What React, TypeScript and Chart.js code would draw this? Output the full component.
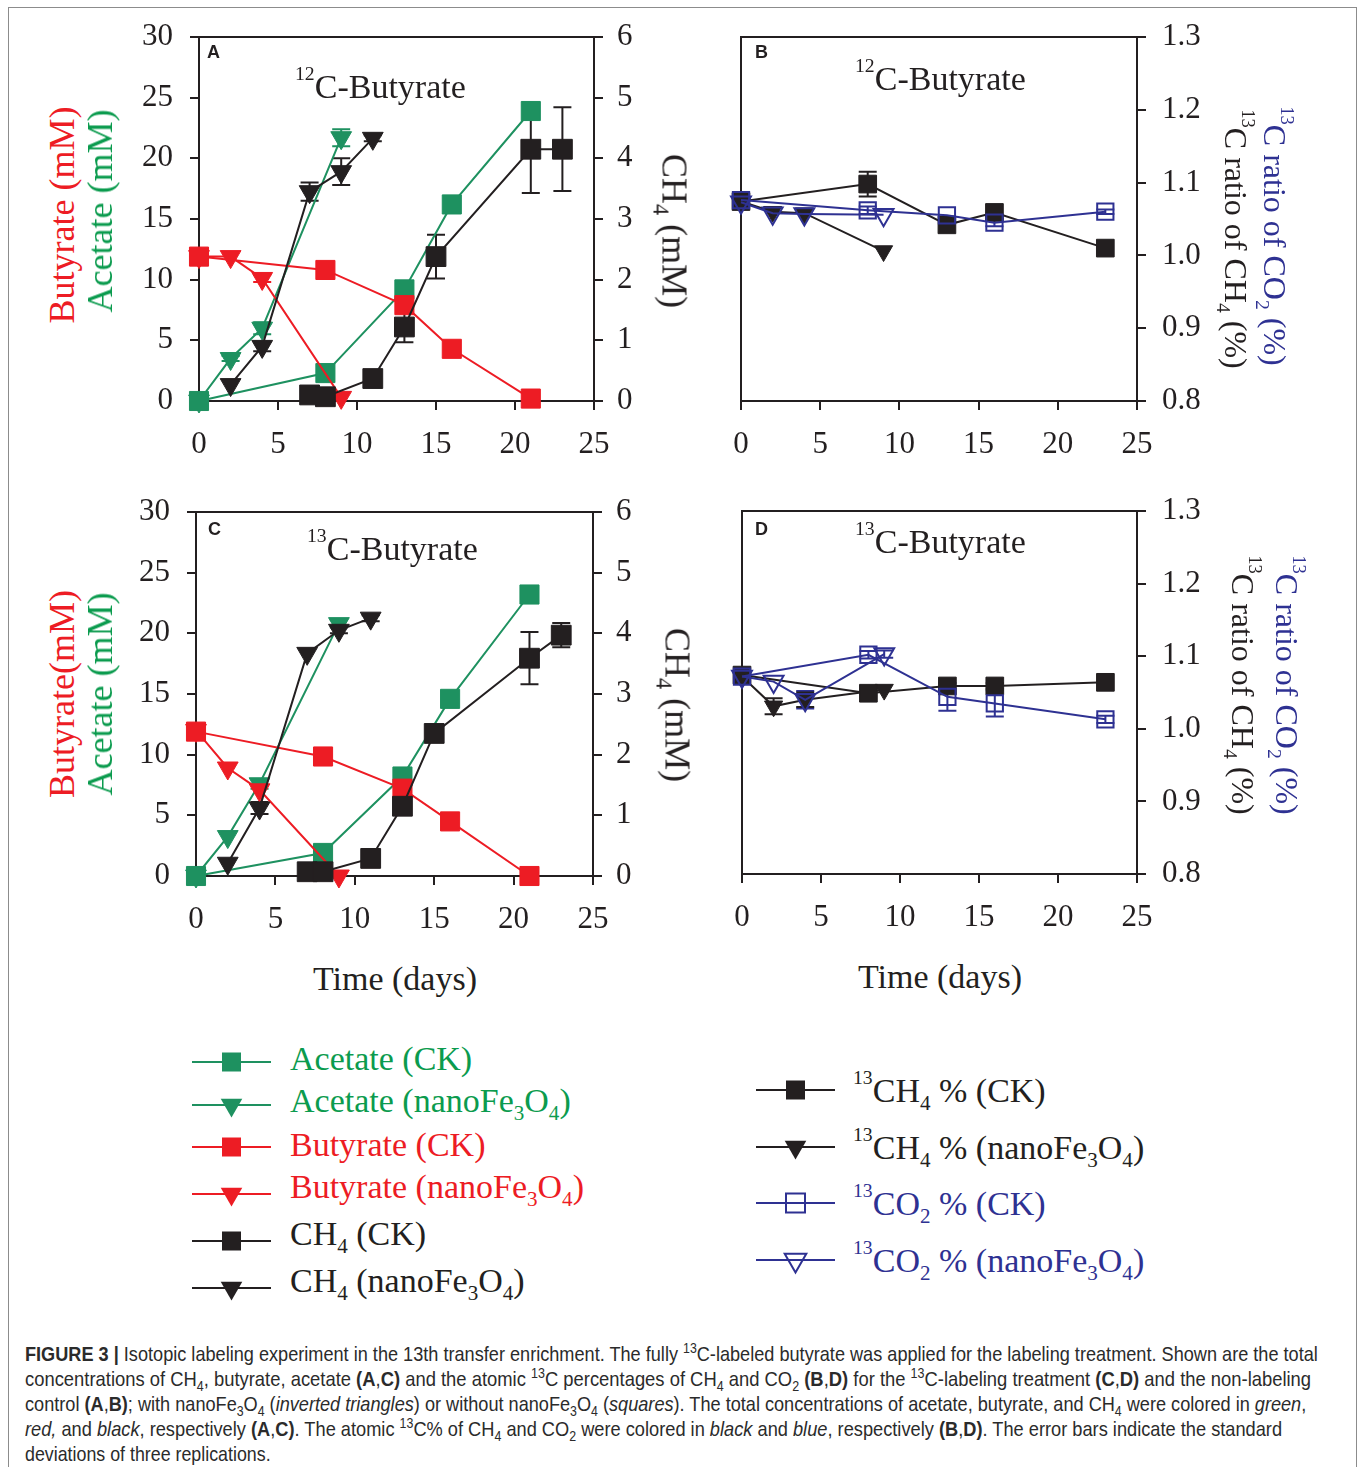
import React, { useEffect, useLayoutEffect, useRef } from 'react';
import { Chart, registerables } from 'chart.js';
Chart.register(...registerables);

const INK = '#231F20';
const GREEN = '#1E9160';
const GREEN_TXT = '#0B9B4E';
const RED = '#ED1C24';
const BLUE = '#2E3192';
const SERIF = "'Liberation Serif','Times New Roman',Times,serif";
const SANS = "'Liberation Sans',Arial,Helvetica,sans-serif";
const CAPTION_FONT = "'Liberation Sans',Arial,Helvetica,sans-serif";

// ---------- x values (days) ----------
const DAYS_ACID_CK = [0, 8, 13, 16, 21];
const DAYS_ACID_NANO = [0, 2, 4, 9];
const DAYS_CH4_CK = [7, 8, 11, 13, 15, 21, 23];
const DAYS_CH4_NANO = [2, 4, 7, 9, 11];
const DAYS_ISO_CK = [0, 8, 13, 16, 23];
const DAYS_ISO_NANO = [0, 2, 4, 9];

// ---------- tick labels ----------
const X_TICKS = [0, 5, 10, 15, 20, 25];
const CONC_TICKS = [0, 5, 10, 15, 20, 25, 30];
const CH4_TICKS = [0, 1, 2, 3, 4, 5, 6];
const RATIO_TICKS = [0.8, 0.9, 1.0, 1.1, 1.2, 1.3];

// ---------- Panel A (12C-butyrate, concentrations) ----------
const A_ACETATE_CK = [0, 2.3, 9.2, 16.2, 23.9];
const A_ACETATE_NANO = [0, 3.5, 6.0, 21.7];
const A_ACETATE_NANO_ERR = [0, 0.2, 0.5, 0.7];
const A_BUTYRATE_CK = [11.9, 10.8, 7.9, 4.3, 0.2];
const A_BUTYRATE_NANO = [11.9, 11.9, 10.1, 0.3];
const A_BUTYRATE_NANO_ERR = [0, 0, 0.3, 0];
const A_CH4_CK = [0.1, 0.07, 0.37, 1.22, 2.38, 4.15, 4.15];
const A_CH4_CK_ERR = [0, 0, 0, 0.25, 0.36, 0.72, 0.69];
const A_CH4_NANO = [0.27, 0.9, 3.45, 3.78, 4.33];
const A_CH4_NANO_ERR = [0, 0.08, 0.15, 0.22, 0.05];

// ---------- Panel B (12C-butyrate, 13C ratio) ----------
const B_CH4_CK = [1.074, 1.098, 1.042, 1.059, 1.010];
const B_CH4_CK_ERR = [0, 0.017, 0, 0, 0];
const B_CH4_NANO = [1.074, 1.060, 1.058, 1.006];
const B_CO2_CK = [1.076, 1.062, 1.055, 1.045, 1.060];
const B_CO2_CK_ERR = [0, 0.005, 0, 0.005, 0.003];
const B_CO2_NANO = [1.073, 1.058, 1.057, 1.056];

// ---------- Panel C (13C-butyrate, concentrations) ----------
const C_ACETATE_CK = [0, 1.9, 8.2, 14.6, 23.2];
const C_ACETATE_NANO = [0, 3.25, 7.6, 20.8];
const C_ACETATE_NANO_ERR = [0, 0, 0.4, 0.3];
const C_BUTYRATE_CK = [11.9, 9.85, 7.2, 4.5, 0];
const C_BUTYRATE_NANO = [12.0, 8.9, 7.1, 0];
const C_CH4_CK = [0.07, 0.07, 0.29, 1.15, 2.35, 3.59, 3.97];
const C_CH4_CK_ERR = [0, 0, 0, 0, 0, 0.43, 0.2];
const C_CH4_NANO = [0.21, 1.12, 3.67, 4.05, 4.25];
const C_CH4_NANO_ERR = [0, 0.1, 0, 0.05, 0.05];

// ---------- Panel D (13C-butyrate, 13C ratio) ----------
const D_CH4_CK = [1.074, 1.049, 1.059, 1.059, 1.064];
const D_CH4_CK_ERR = [0, 0, 0, 0.004, 0];
const D_CH4_NANO = [1.072, 1.031, 1.040, 1.054];
const D_CH4_NANO_ERR = [0, 0.011, 0.01, 0];
const D_CO2_CK = [1.072, 1.102, 1.044, 1.035, 1.013];
const D_CO2_CK_ERR = [0, 0.005, 0.019, 0.018, 0.005];
const D_CO2_NANO = [1.072, 1.065, 1.040, 1.103];
const D_CO2_NANO_ERR = [0, 0, 0.012, 0.005];

// ---------- chart helpers ----------
type Opt = { errs?: number[]; open?: boolean; r?: number };
function series(label: string, xs: number[], ys: number[], color: string, shape: 'rect' | 'tri', axis: string, opt: Opt = {}) {
  const isTri = shape === 'tri';
  return {
    label,
    data: xs.map((x, i) => ({ x, y: ys[i] })),
    borderColor: color,
    backgroundColor: color,
    borderWidth: 2,
    pointStyle: isTri ? 'triangle' : 'rect',
    pointRotation: isTri ? 180 : 0,
    pointRadius: opt.r ?? (isTri ? 12 : 13.5),
    pointBackgroundColor: opt.open ? 'rgba(255,255,255,0)' : color,
    pointBorderColor: color,
    pointBorderWidth: opt.open ? 2 : 1,
    yAxisID: axis,
    clip: false,
    tension: 0,
    fill: false,
    errors: opt.errs,
  } as any;
}

const framePlugin = {
  id: 'frame',
  beforeDatasetsDraw(chart: any) {
    const { ctx, chartArea } = chart;
    ctx.save();
    ctx.strokeStyle = INK;
    ctx.lineWidth = 2;
    ctx.strokeRect(chartArea.left, chartArea.top, chartArea.right - chartArea.left, chartArea.bottom - chartArea.top);
    ctx.restore();
  },
};

const errorBarPlugin = {
  id: 'errbars',
  beforeDatasetsDraw(chart: any) {
    const ctx = chart.ctx;
    chart.data.datasets.forEach((ds: any, i: number) => {
      if (!ds.errors) return;
      const meta = chart.getDatasetMeta(i);
      const ys = chart.scales[meta.yAxisID];
      ctx.save();
      ctx.strokeStyle = ds.borderColor;
      ctx.lineWidth = 2;
      meta.data.forEach((pt: any, j: number) => {
        const e = ds.errors[j];
        if (!e) return;
        const v = ds.data[j].y;
        const y1 = ys.getPixelForValue(v + e);
        const y2 = ys.getPixelForValue(v - e);
        const x = pt.x;
        ctx.beginPath();
        ctx.moveTo(x, y1); ctx.lineTo(x, y2);
        ctx.moveTo(x - 9, y1); ctx.lineTo(x + 9, y1);
        ctx.moveTo(x - 9, y2); ctx.lineTo(x + 9, y2);
        ctx.stroke();
      });
      ctx.restore();
    });
  },
};

function axisCommon(padding: number) {
  return {
    grid: { drawOnChartArea: false, drawTicks: true, tickLength: 9, color: INK, lineWidth: 2 },
    border: { display: true, color: INK, width: 2 },
    ticks: { autoSkip: false, maxRotation: 0, minRotation: 0, color: INK, font: { family: SERIF, size: 31 }, padding },
  };
}

function xScale(height: number) {
  const c = axisCommon(16);
  return {
    type: 'linear', position: 'bottom', min: X_TICKS[0], max: X_TICKS[X_TICKS.length - 1],
    ...c,
    ticks: { ...c.ticks, stepSize: X_TICKS[1] - X_TICKS[0], callback: (v: number) => String(v) },
    afterFit: (s: any) => { s.height = height; },
  };
}

function yScale(position: string, ticksArr: number[], width: number, padding: number, digits: number) {
  const c = axisCommon(padding);
  return {
    type: 'linear', position, min: ticksArr[0], max: ticksArr[ticksArr.length - 1],
    ...c,
    ticks: { ...c.ticks, stepSize: +(ticksArr[1] - ticksArr[0]).toFixed(3), callback: (v: number) => v.toFixed(digits) },
    afterFit: (s: any) => { s.width = width; },
  };
}

function concConfig(p: {
  aceCK: number[]; aceNano: number[]; aceNanoErr: number[];
  butCK: number[]; butNano: number[]; butNanoErr?: number[];
  ch4CK: number[]; ch4CKErr: number[]; ch4Nano: number[]; ch4NanoErr: number[];
  leftW: number; rightW: number; bottomH: number; padTop: number;
}) {
  return {
    type: 'line',
    data: {
      datasets: [
        series('CH4 (CK)', DAYS_CH4_CK, p.ch4CK, INK, 'rect', 'y2', { errs: p.ch4CKErr, r: 14 }),
        series('CH4 (nanoFe3O4)', DAYS_CH4_NANO, p.ch4Nano, INK, 'tri', 'y2', { errs: p.ch4NanoErr }),
        series('Butyrate (CK)', DAYS_ACID_CK, p.butCK, RED, 'rect', 'y'),
        series('Butyrate (nanoFe3O4)', DAYS_ACID_NANO, p.butNano, RED, 'tri', 'y', { errs: p.butNanoErr }),
        series('Acetate (CK)', DAYS_ACID_CK, p.aceCK, GREEN, 'rect', 'y'),
        series('Acetate (nanoFe3O4)', DAYS_ACID_NANO, p.aceNano, GREEN, 'tri', 'y', { errs: p.aceNanoErr }),
      ],
    },
    options: {
      responsive: false, animation: false, devicePixelRatio: 1, events: [],
      layout: { padding: { top: p.padTop, left: 0, right: 0, bottom: 0 } },
      plugins: { legend: { display: false }, tooltip: { enabled: false }, title: { display: false } },
      scales: {
        x: xScale(p.bottomH),
        y: yScale('left', CONC_TICKS, p.leftW, 17, 0),
        y2: yScale('right', CH4_TICKS, p.rightW, 14, 0),
      },
    },
    plugins: [framePlugin, errorBarPlugin],
  } as any;
}

function ratioConfig(p: {
  ch4CK: number[]; ch4CKErr?: number[]; ch4Nano: number[]; ch4NanoErr?: number[];
  co2CK: number[]; co2CKErr?: number[]; co2Nano: number[]; co2NanoErr?: number[];
  padLeft: number; padTop: number; rightW: number; bottomH: number;
}) {
  return {
    type: 'line',
    data: {
      datasets: [
        series('13CO2 % (CK)', DAYS_ISO_CK, p.co2CK, BLUE, 'rect', 'y', { errs: p.co2CKErr, open: true, r: 11.5 }),
        series('13CO2 % (nanoFe3O4)', DAYS_ISO_NANO, p.co2Nano, BLUE, 'tri', 'y', { errs: p.co2NanoErr, open: true, r: 11.5 }),
        series('13CH4 % (CK)', DAYS_ISO_CK, p.ch4CK, INK, 'rect', 'y', { errs: p.ch4CKErr, r: 12.5 }),
        series('13CH4 % (nanoFe3O4)', DAYS_ISO_NANO, p.ch4Nano, INK, 'tri', 'y', { errs: p.ch4NanoErr, r: 10.5 }),
      ],
    },
    options: {
      responsive: false, animation: false, devicePixelRatio: 1, events: [],
      layout: { padding: { top: p.padTop, left: p.padLeft, right: 0, bottom: 0 } },
      plugins: { legend: { display: false }, tooltip: { enabled: false }, title: { display: false } },
      scales: {
        x: xScale(p.bottomH),
        y: yScale('right', RATIO_TICKS, p.rightW, 16, 1),
      },
    },
    plugins: [framePlugin, errorBarPlugin],
  } as any;
}

function ChartBox({ left, top, width, height, config }: any) {
  const ref = useRef<HTMLCanvasElement>(null);
  useEffect(() => {
    const chart = new Chart(ref.current as HTMLCanvasElement, config());
    return () => chart.destroy();
  }, []);
  return (
    <div style={{ position: 'absolute', left, top, width, height }}>
      <canvas ref={ref} width={width} height={height} style={{ display: 'block', width, height }} />
    </div>
  );
}

// ---------- text helpers ----------
const Sup = ({ children }: any) => (
  <span style={{ fontSize: '0.58em', position: 'relative', top: '-0.9em' }}>{children}</span>
);
const Sub = ({ children }: any) => (
  <span style={{ fontSize: '0.62em', position: 'relative', top: '0.4em' }}>{children}</span>
);

function T({ x, base, size, font = SERIF, color = INK, bold = false, center = false, children }: any) {
  const ratio = font === SERIF ? 0.8375 : 0.8465;
  return (
    <div style={{
      position: 'absolute', left: x, top: base - ratio * size, fontFamily: font, fontSize: size,
      lineHeight: `${size}px`, color, whiteSpace: 'nowrap', fontWeight: bold ? 700 : 400,
      transform: center ? 'translateX(-50%)' : undefined,
    }}>{children}</div>
  );
}

function RT({ cx, cy, size, color = INK, rot, children }: any) {
  return (
    <div style={{
      position: 'absolute', left: cx, top: cy, transform: `translate(-50%,-50%) rotate(${rot}deg)`,
      fontFamily: SERIF, fontSize: size, lineHeight: `${size}px`, color, whiteSpace: 'nowrap',
    }}>{children}</div>
  );
}

function LegendMark({ x, y, color, shape, open = false }: any) {
  const cx = 39.5, cy = 16;
  return (
    <svg style={{ position: 'absolute', left: x, top: y - cy }} width={80} height={36}>
      <line x1={0} y1={cy} x2={79} y2={cy} stroke={color} strokeWidth={2} />
      {shape === 'rect' ? (
        <rect x={cx - 9.5} y={cy - 9.5} width={19} height={19} fill={open ? 'none' : color} stroke={color} strokeWidth={open ? 2 : 0} />
      ) : (
        <polygon points={`${cx},${cy + 12.5} ${cx - 10.8},${cy - 6.2} ${cx + 10.8},${cy - 6.2}`} fill={open ? 'none' : color} stroke={color} strokeWidth={open ? 2 : 0} />
      )}
    </svg>
  );
}

const CapSup = ({ children }: any) => (
  <span style={{ fontSize: '0.68em', position: 'relative', top: '-0.6em' }}>{children}</span>
);
const CapSub = ({ children }: any) => (
  <span style={{ fontSize: '0.68em', position: 'relative', top: '0.3em' }}>{children}</span>
);

function FitLine({ x, base, width, children }: any) {
  const ref = useRef<HTMLDivElement>(null);
  useLayoutEffect(() => {
    const el = ref.current;
    if (!el) return;
    const w = el.scrollWidth;
    if (w > 0) el.style.transform = `scaleX(${width / w})`;
  }, [width]);
  const size = 21;
  return (
    <div ref={ref} style={{
      position: 'absolute', left: x, top: base - 0.8465 * size, fontFamily: CAPTION_FONT, fontSize: size,
      lineHeight: `${size}px`, whiteSpace: 'nowrap', transformOrigin: '0 0', color: '#2b2b2b',
    }}>{children}</div>
  );
}

const B = ({ children }: any) => <b style={{ fontWeight: 700 }}>{children}</b>;
const I = ({ children }: any) => <i>{children}</i>;

export default function App() {
  const configA = () => concConfig({
    aceCK: A_ACETATE_CK, aceNano: A_ACETATE_NANO, aceNanoErr: A_ACETATE_NANO_ERR,
    butCK: A_BUTYRATE_CK, butNano: A_BUTYRATE_NANO, butNanoErr: A_BUTYRATE_NANO_ERR,
    ch4CK: A_CH4_CK, ch4CKErr: A_CH4_CK_ERR, ch4Nano: A_CH4_NANO, ch4NanoErr: A_CH4_NANO_ERR,
    leftW: 89, rightW: 106, bottomH: 79, padTop: 37,
  });
  const configC = () => concConfig({
    aceCK: C_ACETATE_CK, aceNano: C_ACETATE_NANO, aceNanoErr: C_ACETATE_NANO_ERR,
    butCK: C_BUTYRATE_CK, butNano: C_BUTYRATE_NANO,
    ch4CK: C_CH4_CK, ch4CKErr: C_CH4_CK_ERR, ch4Nano: C_CH4_NANO, ch4NanoErr: C_CH4_NANO_ERR,
    leftW: 86, rightW: 107, bottomH: 79, padTop: 37,
  });
  const configB = () => ratioConfig({
    ch4CK: B_CH4_CK, ch4CKErr: B_CH4_CK_ERR, ch4Nano: B_CH4_NANO,
    co2CK: B_CO2_CK, co2CKErr: B_CO2_CK_ERR, co2Nano: B_CO2_NANO,
    padLeft: 41, padTop: 37, rightW: 123, bottomH: 79,
  });
  const configD = () => ratioConfig({
    ch4CK: D_CH4_CK, ch4CKErr: D_CH4_CK_ERR, ch4Nano: D_CH4_NANO, ch4NanoErr: D_CH4_NANO_ERR,
    co2CK: D_CO2_CK, co2CKErr: D_CO2_CK_ERR, co2Nano: D_CO2_NANO, co2NanoErr: D_CO2_NANO_ERR,
    padLeft: 42, padTop: 36, rightW: 123, bottomH: 81,
  });

  const leftLegend = [
    { y: 1062, base: 1070, color: GREEN, txt: GREEN_TXT, shape: 'rect', text: <>Acetate (CK)</> },
    { y: 1105, base: 1112, color: GREEN, txt: GREEN_TXT, shape: 'tri', text: <>Acetate (nanoFe<Sub>3</Sub>O<Sub>4</Sub>)</> },
    { y: 1147, base: 1156, color: RED, txt: RED, shape: 'rect', text: <>Butyrate (CK)</> },
    { y: 1194, base: 1198, color: RED, txt: RED, shape: 'tri', text: <>Butyrate (nanoFe<Sub>3</Sub>O<Sub>4</Sub>)</> },
    { y: 1241, base: 1245, color: INK, txt: INK, shape: 'rect', text: <>CH<Sub>4</Sub> (CK)</> },
    { y: 1288, base: 1292, color: INK, txt: INK, shape: 'tri', text: <>CH<Sub>4</Sub> (nanoFe<Sub>3</Sub>O<Sub>4</Sub>)</> },
  ];
  const rightLegend = [
    { y: 1090, base: 1102, color: INK, shape: 'rect', open: false, text: <><Sup>13</Sup>CH<Sub>4</Sub> % (CK)</> },
    { y: 1147, base: 1159, color: INK, shape: 'tri', open: false, text: <><Sup>13</Sup>CH<Sub>4</Sub> % (nanoFe<Sub>3</Sub>O<Sub>4</Sub>)</> },
    { y: 1203, base: 1215, color: BLUE, shape: 'rect', open: true, text: <><Sup>13</Sup>CO<Sub>2</Sub> % (CK)</> },
    { y: 1260, base: 1272, color: BLUE, shape: 'tri', open: true, text: <><Sup>13</Sup>CO<Sub>2</Sub> % (nanoFe<Sub>3</Sub>O<Sub>4</Sub>)</> },
  ];

  return (
    <div style={{ position: 'absolute', left: 0, top: 0, width: 1358, height: 1467, overflow: 'hidden', background: '#fff' }}>
      <div style={{ position: 'absolute', left: 8, top: 7, width: 1347, height: 1480, border: '1px solid #8c8c8c' }} />

      <ChartBox left={110} top={0} width={590} height={480} config={configA} />
      <ChartBox left={700} top={0} width={560} height={480} config={configB} />
      <ChartBox left={110} top={475} width={590} height={480} config={configC} />
      <ChartBox left={700} top={475} width={560} height={480} config={configD} />

      {/* panel letters */}
      <T x={207} base={58} size={18} font={SANS} bold>A</T>
      <T x={755} base={58} size={18} font={SANS} bold>B</T>
      <T x={208} base={535} size={18} font={SANS} bold>C</T>
      <T x={755} base={535} size={18} font={SANS} bold>D</T>

      {/* panel titles */}
      <T x={295} base={98} size={34}><Sup>12</Sup>C-Butyrate</T>
      <T x={855} base={90} size={34}><Sup>12</Sup>C-Butyrate</T>
      <T x={307} base={560} size={34}><Sup>13</Sup>C-Butyrate</T>
      <T x={855} base={553} size={34}><Sup>13</Sup>C-Butyrate</T>

      {/* axis titles panel A */}
      <RT cx={62} cy={215} size={36} color={RED} rot={-90}>Butyrate (mM)</RT>
      <RT cx={100} cy={211} size={36} color={GREEN_TXT} rot={-90}>Acetate (mM)</RT>
      <RT cx={672} cy={231} size={36} rot={90}>CH<Sub>4</Sub> (mM)</RT>
      {/* axis titles panel C */}
      <RT cx={62} cy={694} size={36} color={RED} rot={-90}>Butyrate(mM)</RT>
      <RT cx={100} cy={694} size={36} color={GREEN_TXT} rot={-90}>Acetate (mM)</RT>
      <RT cx={675} cy={705} size={36} rot={90}>CH<Sub>4</Sub> (mM)</RT>
      {/* axis titles panel B */}
      <RT cx={1233} cy={239} size={32} rot={90}><Sup>13</Sup>C ratio of CH<Sub>4</Sub> (%)</RT>
      <RT cx={1272} cy={236} size={32} color={BLUE} rot={90}><Sup>13</Sup>C ratio of CO<Sub>2</Sub> (%)</RT>
      {/* axis titles panel D */}
      <RT cx={1240} cy={685} size={32} rot={90}><Sup>13</Sup>C ratio of CH<Sub>4</Sub> (%)</RT>
      <RT cx={1284} cy={685} size={32} color={BLUE} rot={90}><Sup>13</Sup>C ratio of CO<Sub>2</Sub> (%)</RT>

      {/* x titles */}
      <T x={395} base={990} size={34} center>Time (days)</T>
      <T x={940} base={988} size={34} center>Time (days)</T>

      {/* legends */}
      {leftLegend.map((r, i) => (
        <React.Fragment key={'l' + i}>
          <LegendMark x={192} y={r.y} color={r.color} shape={r.shape} />
          <T x={290} base={r.base} size={34} color={r.txt}>{r.text}</T>
        </React.Fragment>
      ))}
      {rightLegend.map((r, i) => (
        <React.Fragment key={'r' + i}>
          <LegendMark x={756} y={r.y} color={r.color} shape={r.shape} open={r.open} />
          <T x={853} base={r.base} size={34} color={r.color}>{r.text}</T>
        </React.Fragment>
      ))}

      {/* caption */}
      <FitLine x={25} base={1361} width={1293}>
        <B>FIGURE 3 |</B> Isotopic labeling experiment in the 13th transfer enrichment. The fully <CapSup>13</CapSup>C-labeled butyrate was applied for the labeling treatment. Shown are the total
      </FitLine>
      <FitLine x={25} base={1386} width={1286}>
        concentrations of CH<CapSub>4</CapSub>, butyrate, acetate <B>(A</B>,<B>C)</B> and the atomic <CapSup>13</CapSup>C percentages of CH<CapSub>4</CapSub> and CO<CapSub>2</CapSub> <B>(B</B>,<B>D)</B> for the <CapSup>13</CapSup>C-labeling treatment <B>(C</B>,<B>D)</B> and the non-labeling
      </FitLine>
      <FitLine x={25} base={1411} width={1281}>
        control <B>(A</B>,<B>B)</B>; with nanoFe<CapSub>3</CapSub>O<CapSub>4</CapSub> (<I>inverted triangles</I>) or without nanoFe<CapSub>3</CapSub>O<CapSub>4</CapSub> (<I>squares</I>). The total concentrations of acetate, butyrate, and CH<CapSub>4</CapSub> were colored in <I>green</I>,
      </FitLine>
      <FitLine x={25} base={1436} width={1257}>
        <I>red,</I> and <I>black</I>, respectively <B>(A</B>,<B>C)</B>. The atomic <CapSup>13</CapSup>C% of CH<CapSub>4</CapSub> and CO<CapSub>2</CapSub> were colored in <I>black</I> and <I>blue</I>, respectively <B>(B</B>,<B>D)</B>. The error bars indicate the standard
      </FitLine>
      <FitLine x={25} base={1461} width={246}>
        deviations of three replications.
      </FitLine>
    </div>
  );
}
